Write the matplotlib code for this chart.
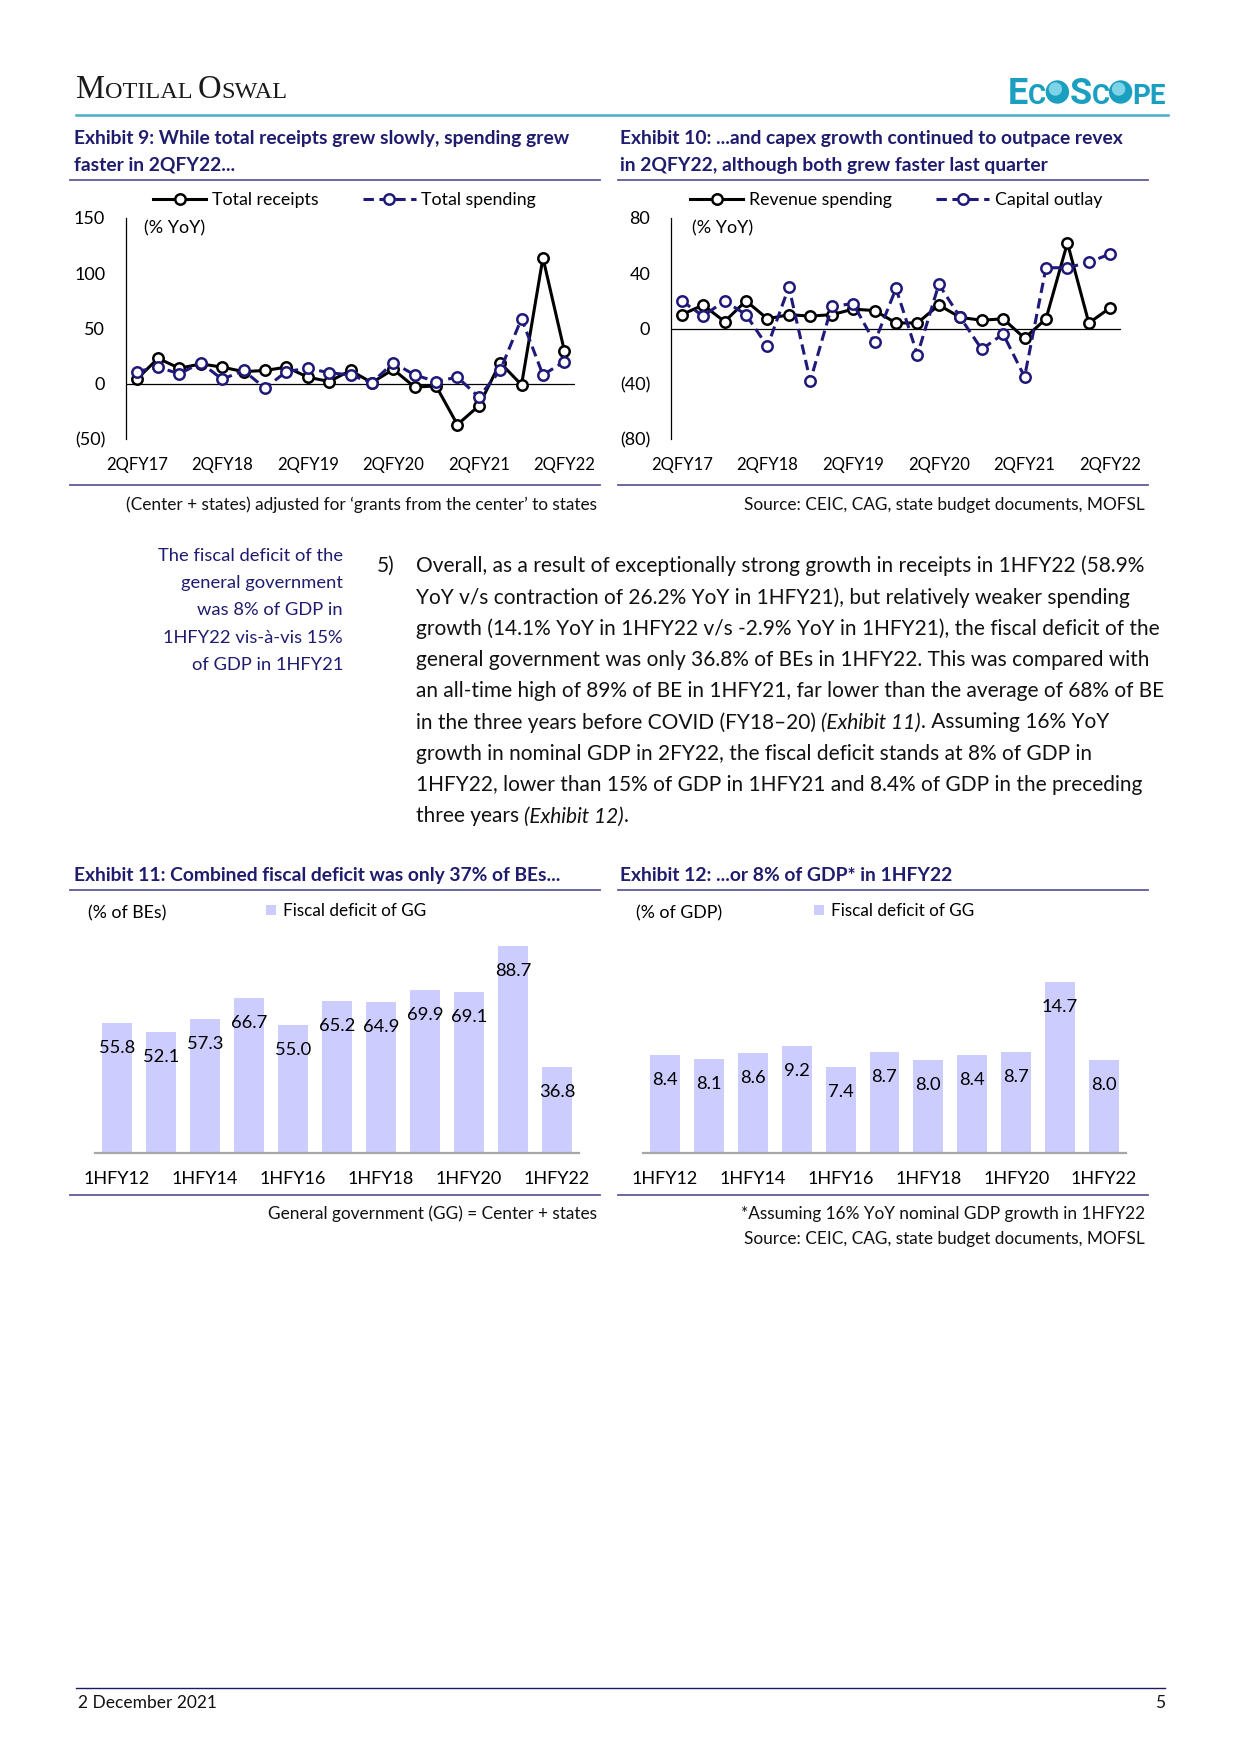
import matplotlib
matplotlib.use("Agg")
import matplotlib.pyplot as plt
import numpy as np
from matplotlib.patches import Circle

plt.rcParams['font.family'] = ['Lato', 'DejaVu Sans']

# ---- data ----
quarters = ['2QFY17', '3QFY17', '4QFY17', '1QFY18', '2QFY18', '3QFY18', '4QFY18',
            '1QFY19', '2QFY19', '3QFY19', '4QFY19', '1QFY20', '2QFY20', '3QFY20',
            '4QFY20', '1QFY21', '2QFY21', '3QFY21', '4QFY21', '1QFY22', '2QFY22']
total_receipts = [4, 23, 14, 18, 15, 11, 12, 15, 6, 2, 12, 1, 13, -3, -2, -37, -20, 19, -1, 114, 30]
total_spending = [11, 15, 9, 19, 4, 12, -4, 11, 14, 10, 8, 1, 19, 8, 2, 6, -12, 12, 59, 8, 20]
revenue_spending = [10, 17, 5, 20, 7, 10, 9, 10, 14, 13, 4, 4, 17, 8, 6, 7, -7, 7, 62, 4, 15]
capital_outlay = [20, 9, 20, 10, -13, 30, -38, 16, 18, -10, 29, -19, 32, 8, -15, -4, -35, 44, 44, 48, 54]

halves = ['1HFY12', '1HFY13', '1HFY14', '1HFY15', '1HFY16', '1HFY17', '1HFY18',
          '1HFY19', '1HFY20', '1HFY21', '1HFY22']
fd_pct_be = [55.8, 52.1, 57.3, 66.7, 55.0, 65.2, 64.9, 69.9, 69.1, 88.7, 36.8]
fd_pct_gdp = [8.4, 8.1, 8.6, 9.2, 7.4, 8.7, 8.0, 8.4, 8.7, 14.7, 8.0]

W, H = 1241, 1755
NAVY = '#1F1C6E'
LINE_NAVY = '#1F1A7A'
RULE = '#5F5C96'
TEAL = '#1A9FC0'
BAR = '#CCCCFF'
INK = '#111111'

fig = plt.figure(figsize=(W / 100, H / 100), dpi=100)
page = fig.add_axes([0, 0, 1, 1])
page.set_xlim(0, W)
page.set_ylim(H, 0)
page.axis('off')
rend = fig.canvas.get_renderer()


def px_axes(l, t, r, b):
    ax = fig.add_axes([l / W, 1 - b / H, (r - l) / W, (b - t) / H])
    ax.set_facecolor('none')
    return ax


def advance(s, **style):
    t = page.text(0, 0, s + '|', **style)
    w1 = t.get_window_extent(rend).width
    t.remove()
    t = page.text(0, 0, '|', **style)
    w2 = t.get_window_extent(rend).width
    t.remove()
    return w1 - w2


def runs(x, y, parts, va='center', **common):
    for s, style in parts:
        st = dict(common)
        st.update(style)
        page.text(x, y, s, va=va, ha='left', **st)
        x += advance(s, **st)
    return x


def paren(v):
    return f'({abs(v):.0f})' if v < 0 else f'{v:.0f}'


# ---- header ----
serif = dict(family=['Liberation Serif', 'DejaVu Serif'], color='#1a1a1a')
runs(76, 98, [('M', dict(size=23.5)), ('OTILAL ', dict(size=17.5)),
              ('O', dict(size=23.5)), ('SWAL', dict(size=17.5))], va='baseline', **serif)

logo = dict(family=['Roboto', 'DejaVu Sans'], weight='bold', color=TEAL)
xl = 1008
xl = runs(xl, 104, [('E', dict(size=26)), ('C', dict(size=20))], va='baseline', **logo)
page.add_patch(Circle((xl + 11, 92), 11, color=TEAL))
page.add_patch(Circle((xl + 9, 89), 6, color='#7FD3E6'))
xl = runs(xl + 23, 104, [('S', dict(size=26)), ('C', dict(size=20))], va='baseline', **logo)
page.add_patch(Circle((xl + 11, 92), 11, color=TEAL))
page.add_patch(Circle((xl + 9, 89), 6, color='#7FD3E6'))
runs(xl + 23, 104, [('PE', dict(size=20))], va='baseline', **logo)
page.plot([76, 1168], [115, 115], color='#4BACC6', lw=1.8)

# ---- titles and rules ----
tstyle = dict(size=13.9, weight='bold', color=NAVY)
page.text(74, 138, 'Exhibit 9: While total receipts grew slowly, spending grew', va='center', **tstyle)
page.text(74, 165, 'faster in 2QFY22...', va='center', **tstyle)
page.text(620, 138, 'Exhibit 10: ...and capex growth continued to outpace revex', va='center', **tstyle)
page.text(620, 165, 'in 2QFY22, although both grew faster last quarter', va='center', **tstyle)
page.text(74, 875, 'Exhibit 11: Combined fiscal deficit was only 37% of BEs...', va='center', **tstyle)
page.text(620, 875, 'Exhibit 12: ...or 8% of GDP* in 1HFY22', va='center', **tstyle)
for y in (180, 485, 890, 1195):
    page.plot([70, 600], [y, y], color=RULE, lw=1.3)
    page.plot([618, 1148], [y, y], color=RULE, lw=1.3)

nstyle = dict(size=12.4, color=INK, ha='right', va='center')
page.text(597, 505, '(Center + states) adjusted for \u2018grants from the center\u2019 to states', **nstyle)
page.text(1145, 505, 'Source: CEIC, CAG, state budget documents, MOFSL', **nstyle)
page.text(597, 1214, 'General government (GG) = Center + states', **nstyle)
page.text(1145, 1214, '*Assuming 16% YoY nominal GDP growth in 1HFY22', **nstyle)
page.text(1145, 1239, 'Source: CEIC, CAG, state budget documents, MOFSL', **nstyle)


# ---- line charts ----
def line_chart(ax, s1, s2, names, ylim, yticks, legend_x):
    x = np.arange(len(quarters))
    mk = dict(marker='o', ms=7.5, mfc='white', mew=1.8)
    ax.plot(x, s1, color='black', lw=2.2, mec='black', label=names[0], **mk)
    ax.plot(x, s2, color=LINE_NAVY, lw=2.2, ls=(0, (3.4, 1.8)), mec=LINE_NAVY, label=names[1], **mk)
    ax.axhline(0, color='black', lw=0.9, zorder=1)
    ax.set_xlim(-0.5, len(quarters) - 0.5)
    ax.set_ylim(*ylim)
    ax.set_yticks(yticks)
    ax.set_yticklabels([paren(v) for v in yticks], fontsize=13)
    ax.set_xticks(x[::4])
    ax.set_xticklabels(quarters[::4], fontsize=12)
    for s in ('top', 'right', 'bottom'):
        ax.spines[s].set_visible(False)
    ax.spines['left'].set_linewidth(0.9)
    ax.tick_params(length=0)
    ax.tick_params(axis='y', pad=15)
    ax.tick_params(axis='x', pad=13)
    ax.legend(loc='center left', bbox_to_anchor=(legend_x / W, 1 - 200 / H),
              bbox_transform=fig.transFigure, ncol=2, frameon=False, fontsize=12.8,
              numpoints=1, handlelength=3.0, handletextpad=0.3, columnspacing=2.5,
              borderpad=0, borderaxespad=0)


ax1 = px_axes(126, 218, 575, 439)
line_chart(ax1, total_receipts, total_spending, ['Total receipts', 'Total spending'],
           (-50, 150), [-50, 0, 50, 100, 150], 153)
page.text(144, 228, '(% YoY)', va='center', size=13)

ax2 = px_axes(671, 218, 1121, 439)
line_chart(ax2, revenue_spending, capital_outlay, ['Revenue spending', 'Capital outlay'],
           (-80, 80), [-80, -40, 0, 40, 80], 690)
page.text(692, 228, '(% YoY)', va='center', size=13)


# ---- bar charts ----
def bar_chart(ax, vals, ymax, ylabel, ylabel_x, legend_x):
    x = np.arange(len(halves))
    ax.bar(x, vals, width=0.68, color=BAR, label='Fiscal deficit of GG')
    for xi, v in zip(x, vals):
        ax.annotate(f'{v:.1f}', (xi, v), xytext=(0, -18), textcoords='offset points',
                    ha='center', va='center', fontsize=13.2)
    ax.set_xlim(-0.5, len(halves) - 0.5)
    ax.set_ylim(0, ymax)
    ax.set_yticks([])
    ax.set_xticks(x[::2])
    ax.set_xticklabels(halves[::2], fontsize=13)
    for s in ('top', 'right', 'left'):
        ax.spines[s].set_visible(False)
    ax.spines['bottom'].set_color('#A6A6A6')
    ax.spines['bottom'].set_linewidth(1.6)
    ax.tick_params(length=0, pad=13)
    ax.legend(loc='center left', bbox_to_anchor=(legend_x / W, 1 - 911 / H),
              bbox_transform=fig.transFigure, frameon=False, fontsize=12.3,
              handlelength=0.6, handleheight=0.6, handletextpad=0.4,
              borderpad=0, borderaxespad=0)
    page.text(ylabel_x, 913, ylabel, va='center', size=12.8)


ax3 = px_axes(95, 920, 579, 1153)
bar_chart(ax3, fd_pct_be, 100, '(% of BEs)', 88, 266)
ax4 = px_axes(643, 920, 1126, 1153)
bar_chart(ax4, fd_pct_gdp, 20, '(% of GDP)', 636, 814)

# ---- commentary ----
side = ['The fiscal deficit of the', 'general government', 'was 8% of GDP in',
        '1HFY22 vis-\u00e0-vis 15%', 'of GDP in 1HFY21']
for i, s in enumerate(side):
    page.text(343, 556 + i * 27.2, s, ha='right', va='center', size=13.2, color=NAVY)

body = [
    [('Overall, as a result of exceptionally strong growth in receipts in 1HFY22 (58.9%', {})],
    [('YoY v/s contraction of 26.2% YoY in 1HFY21), but relatively weaker spending', {})],
    [('growth (14.1% YoY in 1HFY22 v/s -2.9% YoY in 1HFY21), the fiscal deficit of the', {})],
    [('general government was only 36.8% of BEs in 1HFY22. This was compared with', {})],
    [('an all-time high of 89% of BE in 1HFY21, far lower than the average of 68% of BE', {})],
    [('in the three years before COVID (FY18\u201320) ', {}), ('(Exhibit 11)', dict(style='italic')),
     ('. Assuming 16% YoY', {})],
    [('growth in nominal GDP in 2FY22, the fiscal deficit stands at 8% of GDP in', {})],
    [('1HFY22, lower than 15% of GDP in 1HFY21 and 8.4% of GDP in the preceding', {})],
    [('three years ', {}), ('(Exhibit 12)', dict(style='italic')), ('.', {})],
]
page.text(377, 566, '5)', va='center', size=15, color=INK)
for i, parts in enumerate(body):
    runs(416, 566 + i * 31.3, parts, size=15, color=INK)

# ---- footer ----
page.plot([76, 1165], [1688, 1688], color='#1F1A5E', lw=1)
page.text(78, 1703, '2 December 2021', va='center', size=12.5, color=INK)
page.text(1165, 1703, '5', va='center', ha='right', size=12.5, color=INK)

fig.savefig('out.png', dpi=100)
